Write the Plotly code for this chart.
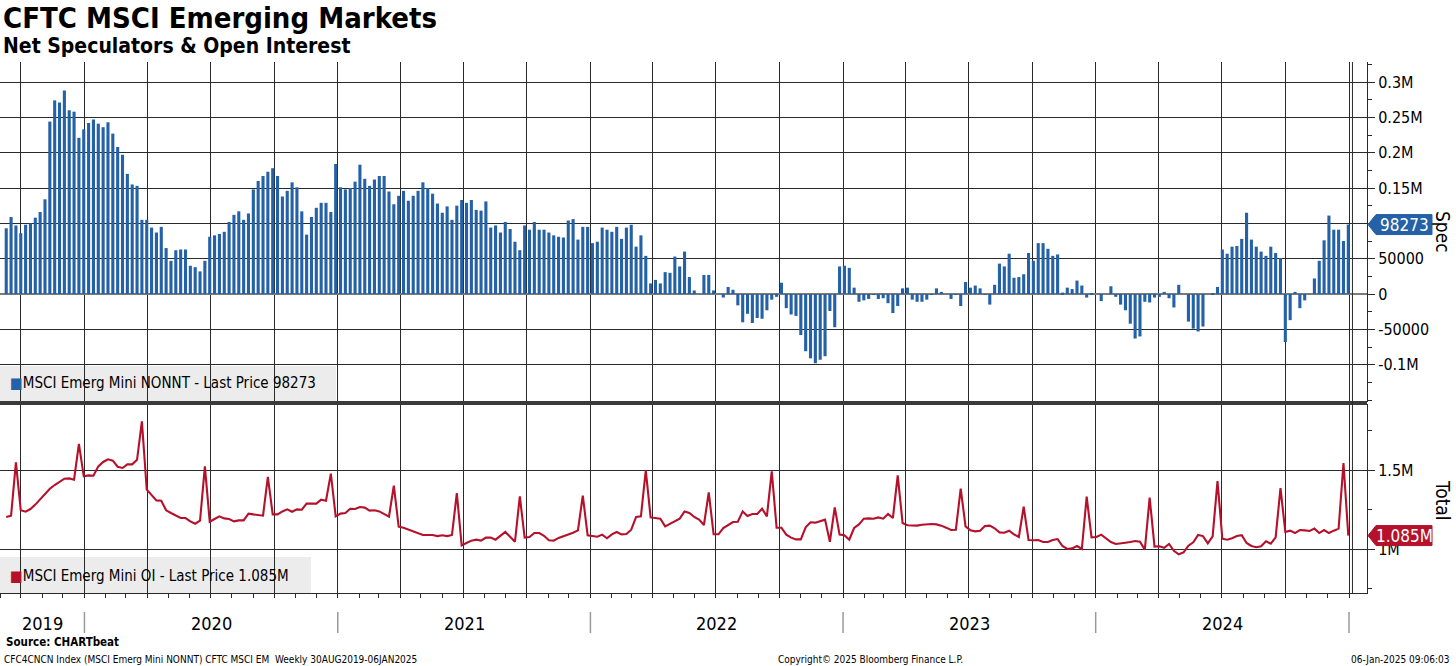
import pandas as pd
import plotly.graph_objects as go

# ---------------- data ----------------
dates = pd.date_range(end="2024-12-31", periods=278, freq="7D")

spec = [
    93000, 109000, 97000, 86000, 98000, 100000, 108000, 116000, 134000, 244000,
    274000, 271000, 288000, 260000, 258000, 221000, 233000, 242000, 247000, 241000,
    236000, 243000, 227000, 208000, 197000, 170000, 155000, 153000, 105000, 105000,
    94000, 87000, 95000, 65000, 47000, 62000, 63000, 63000, 40000, 38000,
    32000, 47000, 81000, 83000, 85000, 88000, 102000, 112000, 117000, 105000,
    114000, 148000, 160000, 167000, 173000, 178000, 167000, 138000, 146000, 158000,
    151000, 117000, 84000, 109000, 122000, 129000, 129000, 116000, 184000, 151000,
    148000, 150000, 159000, 183000, 163000, 153000, 162000, 167000, 167000, 145000,
    127000, 139000, 146000, 132000, 139000, 146000, 158000, 150000, 142000, 128000,
    115000, 124000, 105000, 125000, 133000, 129000, 133000, 119000, 118000, 131000,
    94000, 97000, 87000, 102000, 92000, 74000, 62000, 97000, 91000, 102000,
    91000, 91000, 87000, 83000, 81000, 80000, 104000, 106000, 77000, 95000,
    95000, 72000, 74000, 94000, 91000, 88000, 95000, 78000, 94000, 98000,
    67000, 83000, 54000, 15000, 20000, 15000, 31000, 30000,
    53000, 39000, 60000, 24000, 5000, 0, 27000, 27000, 5000, 0,
    -5000, 10000, 6000, -16000, -40000, -28000, -41000, -34000, -35000, -23000,
    -8000, -4000, 16000, -20000, -29000, -31000, -58000, -81000, -91000, -98000,
    -93000, -88000, -24000, -47000, 39000, 40000, 37000, 9000, -11000, -9000,
    -7000, -1000, -7000, -6000, -13000, -27000, -17000, 8000, 9000, -8000,
    -11000, -11000, -8000, -1000, 8000, 3000, 0, -7000, -1000, -17000,
    17000, 9000, 12000, 8000, -1000, -15000, 13000, 43000,
    39000, 57000, 23000, 24000, 28000, 58000, 47000, 72000, 72000, 64000,
    54000, 56000, 2000, 9000, 7000, 19000, 12000, -5000, 1000, 0,
    -10000, 0, 11000, -4000, -15000, -23000, -42000, -63000, -60000, -11000,
    -12000, -5000, -4000, 3000, -6000, -19000, 13000, 0, -39000, -49000,
    -53000, -46000, 0, 1000, 10000, 63000, 57000, 67000, 68000, 78000,
    115000, 77000, 67000, 60000, 54000, 67000, 58000, 51000, -68000, -37000,
    3000, -20000, -9000, 0, 22000, 47000, 76000, 111000, 91000, 91000,
    75000, 98273,
]

oi_m = [
    1.203, 1.211, 1.549, 1.245, 1.236, 1.253, 1.281, 1.317, 1.350, 1.382,
    1.405, 1.426, 1.445, 1.447, 1.439, 1.665, 1.460, 1.466, 1.464, 1.523,
    1.551, 1.568, 1.559, 1.521, 1.513, 1.536, 1.536, 1.565, 1.808, 1.376,
    1.342, 1.308, 1.306, 1.245, 1.228, 1.211, 1.196, 1.196, 1.175, 1.160,
    1.179, 1.523, 1.173, 1.190, 1.207, 1.194, 1.190, 1.175, 1.181, 1.181,
    1.224, 1.219, 1.215, 1.211, 1.456, 1.219, 1.219, 1.238, 1.251, 1.236,
    1.251, 1.249, 1.287, 1.289, 1.287, 1.312, 1.306, 1.477, 1.207, 1.224,
    1.228, 1.255, 1.253, 1.266, 1.262, 1.243, 1.245, 1.238, 1.222, 1.205,
    1.401, 1.141, 1.135, 1.124, 1.114, 1.099, 1.089, 1.089, 1.089, 1.082,
    1.087, 1.082, 1.089, 1.354, 1.023, 1.038, 1.053, 1.059, 1.053, 1.072,
    1.072, 1.059, 1.084, 1.108, 1.078, 1.046, 1.333, 1.072, 1.076, 1.101,
    1.101, 1.084, 1.055, 1.053, 1.070, 1.080, 1.091, 1.103, 1.118, 1.338,
    1.087, 1.082, 1.078, 1.091, 1.068, 1.093, 1.108, 1.093, 1.095, 1.122,
    1.203, 1.207, 1.498, 1.200, 1.198, 1.192, 1.143, 1.158,
    1.173, 1.192, 1.238, 1.228, 1.203, 1.186, 1.152, 1.359, 1.093, 1.093,
    1.133, 1.154, 1.171, 1.173, 1.238, 1.209, 1.222, 1.222, 1.255, 1.207,
    1.492, 1.135, 1.135, 1.091, 1.072, 1.061, 1.061, 1.137, 1.169, 1.167,
    1.177, 1.186, 1.046, 1.264, 1.091, 1.087, 1.059, 1.133, 1.156, 1.192,
    1.194, 1.192, 1.200, 1.192, 1.222, 1.196, 1.466, 1.165, 1.150, 1.148,
    1.148, 1.154, 1.158, 1.158, 1.156, 1.148, 1.135, 1.120, 1.122, 1.382,
    1.143, 1.118, 1.112, 1.116, 1.145, 1.148, 1.131, 1.105,
    1.103, 1.116, 1.093, 1.076, 1.268, 1.057, 1.055, 1.057, 1.044, 1.044,
    1.057, 1.063, 1.019, 1.000, 1.004, 1.019, 1.000, 1.331, 1.074, 1.076,
    1.091, 1.065, 1.044, 1.032, 1.034, 1.040, 1.044, 1.051, 1.046, 0.996,
    1.325, 1.015, 1.017, 1.008, 1.032, 0.989, 0.966, 0.979, 1.021, 1.042,
    1.089, 1.082, 1.036, 1.080, 1.430, 1.065, 1.059, 1.068, 1.082, 1.087,
    1.038, 1.019, 1.011, 1.017, 1.049, 1.034, 1.074, 1.386, 1.108, 1.116,
    1.101, 1.120, 1.118, 1.114, 1.129, 1.101, 1.120, 1.101, 1.116, 1.129,
    1.544, 1.085,
]

spec_ticks = [300000, 250000, 200000, 150000, 100000, 50000, 0, -50000, -100000]
spec_ticktext = ["0.3M", "0.25M", "0.2M", "0.15M", "", "50000", "0", "-50000", "-0.1M"]
oi_ticks = [1.0, 1.5]
oi_ticktext = ["1M", "1.5M"]
year_labels = ["2019", "2020", "2021", "2022", "2023", "2024"]

spec_name = "MSCI Emerg Mini NONNT"
oi_name = "MSCI Emerg Mini OI"

# ---------------- styling ----------------
W, H = 1456, 666
ML, MR, MT, MB = 0, 89, 62, 73
PW = W - ML - MR          # 1367
PH = H - MT - MB          # 531
BLUE = "#2461a6"
RED = "#b5112b"
GRID = "#2a2a2a"
NARROW = "Liberation Sans Narrow, Arial Narrow, DejaVu Sans Condensed, Liberation Sans, sans-serif"
BOLDF = "DejaVu Sans Condensed, DejaVu Sans, sans-serif"

def py(pix):  # pixel y -> paper y
    return (H - MB - pix) / PH

def px(pix):  # pixel x -> paper x
    return (pix - ML) / PW

x_range = ["2019-09-01", "2025-01-27"]
top_dom = [py(402), 1.0]
bot_dom = [0.0, py(404)]
top_range = [-152800, 328300]
bot_range = [0.7215, 1.918]

fig = go.Figure()
fig.add_trace(go.Bar(x=dates, y=spec, marker=dict(color=BLUE, line=dict(width=0)),
                     xaxis="x", yaxis="y", name=spec_name, showlegend=False))
fig.add_trace(go.Scatter(x=dates, y=oi_m, mode="lines", line=dict(color=RED, width=2.1),
                         xaxis="x2", yaxis="y2", name=oi_name, showlegend=False))

xcommon = dict(range=x_range, type="date", showgrid=True, gridcolor=GRID, gridwidth=1,
               dtick="M3", tick0="2020-01-01", showticklabels=False, zeroline=False)
fig.update_layout(
    width=W, height=H, margin=dict(l=ML, r=MR, t=MT, b=MB, autoexpand=False),
    paper_bgcolor="white", plot_bgcolor="white", bargap=0.36,
    xaxis=dict(**xcommon, anchor="y", ticks="", showline=False),
    xaxis2=dict(**xcommon, anchor="y2", matches="x", showline=True, linecolor=GRID, linewidth=1,
                ticks="outside", ticklen=4, tickcolor=GRID,
                minor=dict(dtick="M1", tick0="2020-01-01", ticks="outside", ticklen=4,
                           tickcolor=GRID, showgrid=False)),
    yaxis=dict(domain=top_dom, anchor="x", side="right", range=top_range,
               tickvals=spec_ticks, ticktext=spec_ticktext,
               ticks="outside", ticklen=7, tickcolor=GRID, showline=True, linecolor=GRID,
               showgrid=True, gridcolor=GRID, gridwidth=1,
               zeroline=True, zerolinecolor="#7a7a7a", zerolinewidth=2,
               tickfont=dict(family=NARROW, size=16, color="black"),
               minor=dict(dtick=25000, tick0=0, ticks="outside", ticklen=4, tickcolor=GRID,
                          showgrid=False)),
    yaxis2=dict(domain=bot_dom, anchor="x2", side="right", range=bot_range,
                tickvals=oi_ticks, ticktext=oi_ticktext,
                ticks="outside", ticklen=7, tickcolor=GRID, showline=True, linecolor=GRID,
                showgrid=True, gridcolor=GRID, gridwidth=1, zeroline=False,
                tickfont=dict(family=NARROW, size=16, color="black"),
                minor=dict(dtick=0.25, tick0=0, ticks="outside", ticklen=4, tickcolor=GRID,
                           showgrid=False)),
)

shapes = []
anns = []

# divider between panels
shapes.append(dict(type="line", xref="paper", yref="paper", x0=0, x1=1.0,
                   y0=py(403), y1=py(403), line=dict(color="#3a3a3a", width=4)))
# end-of-chart vertical line (06-Jan-2025)
shapes.append(dict(type="line", xref="x", yref="paper", x0="2025-01-06", x1="2025-01-06",
                   y0=0, y1=1, line=dict(color=GRID, width=1)))

# legend boxes
shapes.append(dict(type="rect", xref="paper", yref="paper", x0=0, x1=px(336),
                   y0=py(401), y1=py(366), fillcolor="#ececec", line=dict(width=0), layer="below"))
shapes.append(dict(type="rect", xref="paper", yref="paper", x0=0, x1=px(311),
                   y0=py(593), y1=py(557), fillcolor="#ececec", line=dict(width=0), layer="below"))
anns.append(dict(xref="paper", yref="paper", x=px(8), y=py(383), xanchor="left", yanchor="middle",
                 showarrow=False, font=dict(family=NARROW, size=15, color="black"),
                 text=f'<span style="color:{BLUE}">■</span>{spec_name} - Last Price {spec[-1]}'))
anns.append(dict(xref="paper", yref="paper", x=px(8), y=py(576), xanchor="left", yanchor="middle",
                 showarrow=False, font=dict(family=NARROW, size=15, color="black"),
                 text=f'<span style="color:{RED}">■</span>{oi_name} - Last Price {oi_m[-1]:.3f}M'))

# last value flags
def flag(yref, yc, half, color, text):
    x_tip, x0, x1 = px(1368), px(1376), px(1432)
    path = (f"M {x_tip},{yc} L {x0},{yc + half} L {x1},{yc + half} "
            f"L {x1},{yc - half} L {x0},{yc - half} Z")
    shapes.append(dict(type="path", xref="paper", yref=yref, path=path,
                       fillcolor=color, line=dict(color=color, width=1), layer="above"))
    anns.append(dict(xref="paper", yref=yref, x=px(1404), y=yc, xanchor="center", yanchor="middle",
                     showarrow=False, text=text, font=dict(family=NARROW, size=17, color="white")))

flag("y", spec[-1], 10 / 35.33 * 50000, BLUE, f"{spec[-1]}")
flag("y2", oi_m[-1], 10 / 158, RED, f"{oi_m[-1]:.3f}M")

# axis titles
anns.append(dict(xref="paper", yref="paper", x=px(1443), y=py(232), textangle=90,
                 xanchor="center", yanchor="middle",
                 showarrow=False, text="Spec", font=dict(family=NARROW, size=19, color="black")))
anns.append(dict(xref="paper", yref="paper", x=px(1443), y=py(500), textangle=90,
                 xanchor="center", yanchor="middle",
                 showarrow=False, text="Total", font=dict(family=NARROW, size=19, color="black")))

# year labels & separators
year_starts = pd.to_datetime([f"{int(y) + 1}-01-01" for y in year_labels])
for i, y in enumerate(year_labels):
    if i == 0:
        start = pd.Timestamp(x_range[0])
    else:
        start = pd.Timestamp(f"{y}-01-01")
    mid = start + (year_starts[i] - start) / 2
    anns.append(dict(xref="x2", yref="paper", x=mid, y=py(623), showarrow=False, text=y,
                     xanchor="center", yanchor="middle",
                     font=dict(family=NARROW, size=18, color="black")))
for ys in year_starts:
    shapes.append(dict(type="line", xref="x2", yref="paper", x0=ys, x1=ys,
                       y0=py(612), y1=py(633), line=dict(color="#9a9a9a", width=1.5)))

# titles
anns.append(dict(xref="paper", yref="paper", x=px(1), y=py(18), xanchor="left", yanchor="middle",
                 showarrow=False, text="<b>CFTC MSCI Emerging Markets</b>",
                 font=dict(family=BOLDF, size=29, color="black")))
anns.append(dict(xref="paper", yref="paper", x=px(1), y=py(46), xanchor="left", yanchor="middle",
                 showarrow=False, text="<b>Net Speculators &amp; Open Interest</b>",
                 font=dict(family=BOLDF, size=21, color="black")))
anns.append(dict(xref="paper", yref="paper", x=px(4), y=py(642), xanchor="left", yanchor="middle",
                 showarrow=False, text="<b>Source: CHARTbeat</b>",
                 font=dict(family=BOLDF, size=11.5, color="black")))
anns.append(dict(xref="paper", yref="paper", x=px(2), y=py(659), xanchor="left", yanchor="middle",
                 showarrow=False,
                 text="CFC4CNCN Index (MSCI Emerg Mini NONNT) CFTC MSCI EM  Weekly 30AUG2019-06JAN2025",
                 font=dict(family=NARROW, size=10, color="black")))
anns.append(dict(xref="paper", yref="paper", x=px(870), y=py(659), xanchor="center", yanchor="middle",
                 showarrow=False, text="Copyright© 2025 Bloomberg Finance L.P.",
                 font=dict(family=NARROW, size=10, color="black")))
anns.append(dict(xref="paper", yref="paper", x=px(1452), y=py(659), xanchor="right", yanchor="middle",
                 showarrow=False, text="06-Jan-2025 09:06:03",
                 font=dict(family=NARROW, size=10, color="black")))

fig.update_layout(shapes=shapes, annotations=anns)
fig.write_html("out.html", config={"displayModeBar": False},
               post_script="document.body.style.margin='0';")
